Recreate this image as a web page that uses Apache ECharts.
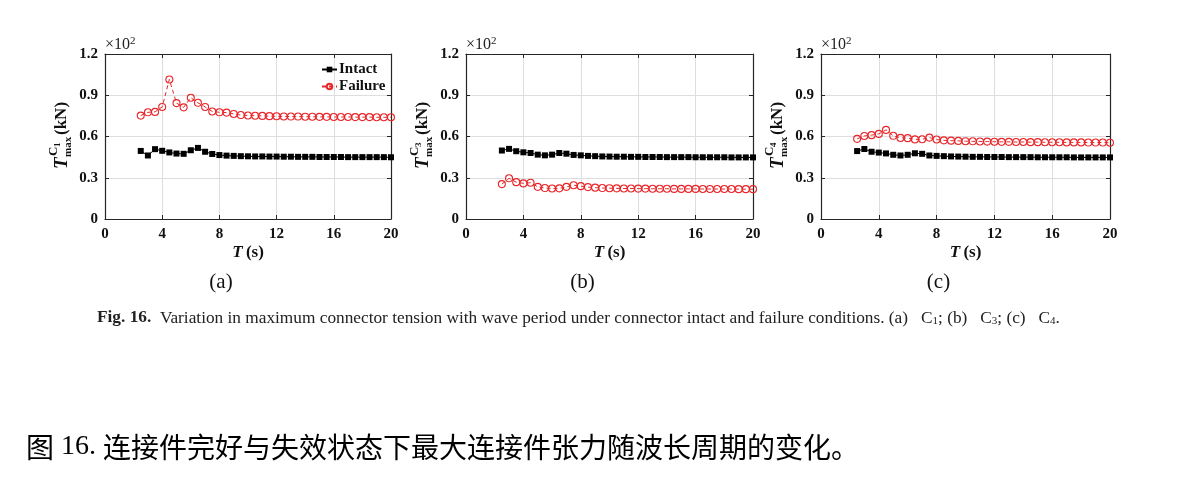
<!DOCTYPE html>
<html>
<head>
<meta charset="utf-8">
<script src="https://cdn.jsdelivr.net/npm/echarts@6/dist/echarts.min.js"></script>
<style>
html,body{margin:0;padding:0;background:#fff;}
#chart{width:1182px;height:504px;}
</style>
</head>
<body>
<div id="chart"></div>
<script>
// ---- data (values in units of x10^2 kN) ----
const periods = [2.5,3,3.5,4,4.5,5,5.5,6,6.5,7,7.5,8,8.5,9,9.5,10,10.5,11,11.5,12,12.5,13,13.5,14,14.5,15,15.5,16,16.5,17,17.5,18,18.5,19,19.5,20];
const xTicks = [0,4,8,12,16,20];
const yTicks = [0,0.3,0.6,0.9,1.2];

const intactC1 = [0.495,0.462,0.508,0.496,0.484,0.476,0.474,0.500,0.517,0.489,0.473,0.465,0.461,0.459,0.457,0.456,0.455,0.455,0.454,0.454,0.453,0.453,0.452,0.452,0.452,0.451,0.451,0.451,0.451,0.450,0.450,0.450,0.450,0.450,0.450,0.449];
const failureC1 = [0.752,0.776,0.779,0.815,1.015,0.843,0.812,0.882,0.845,0.815,0.782,0.776,0.774,0.764,0.756,0.753,0.751,0.750,0.748,0.747,0.746,0.745,0.745,0.744,0.744,0.743,0.743,0.742,0.742,0.742,0.741,0.741,0.741,0.740,0.740,0.740];

const intactC3 = [0.498,0.510,0.493,0.485,0.480,0.468,0.463,0.468,0.480,0.475,0.466,0.463,0.459,0.457,0.455,0.454,0.453,0.453,0.452,0.452,0.451,0.451,0.451,0.450,0.450,0.450,0.450,0.449,0.449,0.449,0.449,0.449,0.448,0.448,0.448,0.448];
const failureC3 = [0.254,0.296,0.268,0.259,0.264,0.234,0.225,0.222,0.223,0.234,0.246,0.239,0.232,0.228,0.225,0.224,0.223,0.222,0.222,0.221,0.221,0.220,0.220,0.220,0.219,0.219,0.219,0.219,0.218,0.218,0.218,0.218,0.218,0.217,0.217,0.217];

const intactC4 = [0.494,0.509,0.489,0.483,0.477,0.467,0.462,0.467,0.478,0.474,0.462,0.459,0.457,0.455,0.454,0.453,0.452,0.452,0.451,0.451,0.451,0.450,0.450,0.450,0.450,0.449,0.449,0.449,0.449,0.449,0.448,0.448,0.448,0.448,0.448,0.448];
const failureC4 = [0.583,0.604,0.610,0.619,0.648,0.605,0.590,0.588,0.579,0.580,0.592,0.578,0.572,0.570,0.568,0.566,0.565,0.564,0.563,0.562,0.561,0.561,0.560,0.560,0.559,0.559,0.558,0.558,0.558,0.557,0.557,0.557,0.556,0.556,0.556,0.555];

const panels = [
  {tag:'(a)', conn:'1', intact:intactC1, failure:failureC1},
  {tag:'(b)', conn:'3', intact:intactC3, failure:failureC3},
  {tag:'(c)', conn:'4', intact:intactC4, failure:failureC4}
];
const seriesNames = ['Intact','Failure'];

// ---- layout ----
const gridBoxes = [
  {left:105, top:54, width:286, height:165},
  {left:466, top:54, width:287, height:165},
  {left:821, top:54, width:289, height:165}
];
const SERIF = '"Liberation Serif", "Times New Roman", serif';
const AX = '#262626';
const RED = '#e8262a';

const grids = [], xAxes = [], yAxes = [], series = [], graphics = [];

gridBoxes.forEach((g,i)=>{
  grids.push(Object.assign({show:false}, g));
  xAxes.push({
    gridIndex:i, type:'value', min:xTicks[0], max:xTicks[xTicks.length-1], interval:4,
    position:'bottom',
    axisLine:{show:true, onZero:false, lineStyle:{color:AX, width:1.2}},
    axisTick:{show:true, inside:true, length:4, lineStyle:{color:AX}},
    axisLabel:{margin:8, fontFamily:SERIF, fontWeight:'bold', fontSize:15, color:'#111'},
    splitLine:{show:true, lineStyle:{color:'#dedede', width:1}},
    name:'{i|T} {b|(s)}', nameLocation:'middle', nameGap:25,
    nameTextStyle:{rich:{
      i:{fontFamily:SERIF, fontWeight:'bold', fontStyle:'italic', fontSize:17, color:'#111'},
      b:{fontFamily:SERIF, fontWeight:'bold', fontSize:17, color:'#111'}
    }}
  });
  xAxes.push({
    gridIndex:i, type:'value', min:0, max:20, interval:4, position:'top',
    axisLine:{show:true, onZero:false, lineStyle:{color:AX, width:1.2}},
    axisTick:{show:true, inside:true, length:4, lineStyle:{color:AX}},
    axisLabel:{show:false}, splitLine:{show:false}
  });
  yAxes.push({
    gridIndex:i, type:'value', min:yTicks[0], max:yTicks[yTicks.length-1], interval:0.3,
    position:'left',
    axisLine:{show:true, onZero:false, lineStyle:{color:AX, width:1.2}},
    axisTick:{show:true, inside:true, length:4, lineStyle:{color:AX}},
    axisLabel:{margin:7, fontFamily:SERIF, fontWeight:'bold', fontSize:15, color:'#111',
      formatter:v=> v===0 ? '0' : v.toFixed(1)},
    splitLine:{show:true, lineStyle:{color:'#dedede', width:1}}
  });
  yAxes.push({
    gridIndex:i, type:'value', min:0, max:1.2, interval:0.3, position:'right',
    axisLine:{show:true, onZero:false, lineStyle:{color:AX, width:1.2}},
    axisTick:{show:true, inside:true, length:4, lineStyle:{color:AX}},
    axisLabel:{show:false}, splitLine:{show:false}
  });

  const p = panels[i];
  series.push({
    name:seriesNames[0], type:'line', xAxisIndex:2*i, yAxisIndex:2*i,
    data: periods.map((t,k)=>[t, p.intact[k]]),
    symbol:'rect', symbolSize:6, showSymbol:true,
    lineStyle:{color:'#000', width:1},
    itemStyle:{color:'#000'},
    emphasis:{disabled:true}, animation:false, z:3
  });
  series.push({
    name:seriesNames[1], type:'line', xAxisIndex:2*i, yAxisIndex:2*i,
    data: periods.map((t,k)=>[t, p.failure[k]]),
    symbol:'circle', symbolSize:7, showSymbol:true,
    lineStyle:{color:RED, width:1, type:[4,3]},
    itemStyle:{color:'rgba(255,255,255,0)', borderColor:RED, borderWidth:1.1},
    emphasis:{disabled:true}, animation:false, z:3
  });

  graphics.push({
    type:'text', left:g.left, top:g.top-18,
    style:{text:'{a|×10}{s|2}', rich:{
      a:{fontFamily:SERIF, fontSize:16, fill:'#222', verticalAlign:'bottom', lineHeight:17},
      s:{fontFamily:SERIF, fontSize:11, fill:'#222', verticalAlign:'top', lineHeight:17, padding:[0,0,6,0]}
    }}
  });

  const cx = g.left - 43, by = 169;
  graphics.push({
    type:'group', x:cx, y:by, rotation:Math.PI/2,
    children:[
      {type:'text', x:0, y:0, style:{text:'T', fontFamily:SERIF, fontWeight:'bold', fontStyle:'italic', fontSize:19, fill:'#111', verticalAlign:'middle', align:'left'}},
      {type:'text', x:13, y:-8, style:{text:'C', fontFamily:SERIF, fontWeight:'bold', fontSize:13, fill:'#111', verticalAlign:'middle', align:'left'}},
      {type:'text', x:22, y:-4, style:{text:p.conn, fontFamily:SERIF, fontWeight:'bold', fontSize:9, fill:'#111', verticalAlign:'middle', align:'left'}},
      {type:'text', x:12, y:6, style:{text:'max', fontFamily:SERIF, fontWeight:'bold', fontSize:11, fill:'#111', verticalAlign:'middle', align:'left'}},
      {type:'text', x:34, y:0, style:{text:'(kN)', fontFamily:SERIF, fontWeight:'bold', fontSize:17, fill:'#111', verticalAlign:'middle', align:'left'}}
    ]
  });

  graphics.push({
    type:'text', x:g.left + g.width/2 - 27, y:282,
    style:{text:p.tag, fontFamily:SERIF, fontSize:21, fill:'#111', align:'center', verticalAlign:'middle'}
  });
});

graphics.push({
  type:'text', x:97, y:318,
  style:{
    text:'{b|Fig. 16.}{r|  Variation in maximum connector tension with wave period under connector intact and failure conditions. (a)   C}{s|1}{r|; (b)   C}{s|3}{r|; (c)   C}{s|4}{r|.}',
    verticalAlign:'middle',
    rich:{
      b:{fontFamily:SERIF, fontWeight:'bold', fontSize:17.3, fill:'#222'},
      r:{fontFamily:SERIF, fontSize:17.3, fill:'#222'},
      s:{fontFamily:SERIF, fontSize:11, fill:'#222', verticalAlign:'bottom', padding:[7,0,0,0]}
    }
  }
});
graphics.push({
  type:'text', x:26, y:447,
  style:{
    text:'{c|图}{n| 16. }{c|连接件完好与失效状态下最大连接件张力随波长周期的变化。}',
    verticalAlign:'middle',
    rich:{
      c:{fontFamily:'"Noto Sans CJK SC", sans-serif', fontSize:28, fill:'#000'},
      n:{fontFamily:SERIF, fontSize:28, fill:'#000'}
    }
  }
});

const chart = echarts.init(document.getElementById('chart'), null, {renderer:'canvas'});
chart.setOption({
  backgroundColor:'#fff',
  animation:false,
  grid:grids, xAxis:xAxes, yAxis:yAxes, series:series,
  legend:{
    data:seriesNames, orient:'vertical', left:316, top:57, itemWidth:15, itemHeight:7, itemGap:2,
    textStyle:{fontFamily:SERIF, fontWeight:'bold', fontSize:15, color:'#111', padding:[0,0,0,-3]},
    selectedMode:false
  },
  graphic:graphics
});
</script>
</body>
</html>
